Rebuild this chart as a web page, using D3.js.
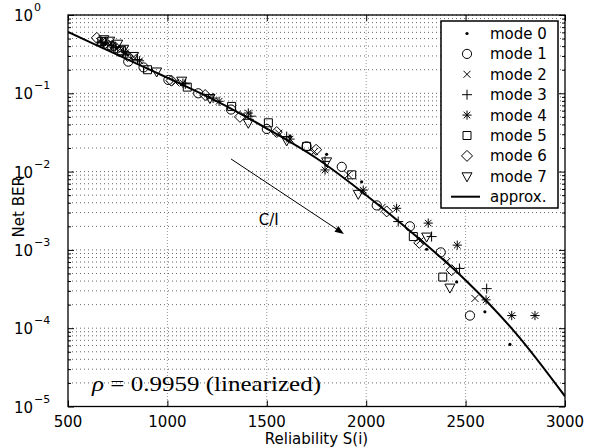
<!DOCTYPE html>
<html><head><meta charset="utf-8">
<script src="https://cdn.jsdelivr.net/npm/d3@7"></script>
<style>body{margin:0;background:#fff} text{fill:#000}</style>
</head><body><svg id="c" width="600" height="448"></svg>
<script>
// ---------------- data ----------------
const modeNames = ["mode 0","mode 1","mode 2","mode 3","mode 4","mode 5","mode 6","mode 7"];
const mode0 = [[690,0.43],[745,0.38],[800,0.31],[1617,0.0285],[1801,0.0166],[1977,0.0074],[2304,0.00102],[2455,0.00039],[2597,0.000162],[2723,0.000062]];
const mode1 = [[700,0.41],[760,0.34],[803,0.254],[880,0.214],[1005,0.148],[1155,0.10],[1320,0.062],[1500,0.035],[1700,0.021],[1877,0.0115],[2053,0.0037],[2220,0.0020],[2375,0.00093],[2522,0.000145]];
const mode2 = [[660,0.46],[710,0.42],[770,0.36],[830,0.29],[1040,0.138],[1215,0.089],[1400,0.050],[1560,0.031],[1740,0.018],[1910,0.0091],[2080,0.0035],[2270,0.0013],[2405,0.00071],[2547,0.00024]];
const mode3 = [[665,0.45],[720,0.41],[780,0.34],[850,0.27],[1090,0.132],[1230,0.087],[1420,0.051],[1600,0.028],[1793,0.0135],[2161,0.0023],[2329,0.00148],[2469,0.00058],[2606,0.00032]];
const mode4 = [[675,0.44],[730,0.39],[790,0.33],[860,0.26],[1078,0.135],[1260,0.079],[1407,0.056],[1617,0.026],[1793,0.0105],[1985,0.0058],[2153,0.0034],[2312,0.0022],[2458,0.00115],[2603,0.00023],[2732,0.000145],[2849,0.000145]];
const mode5 = [[670,0.46],[720,0.40],[770,0.35],[900,0.20],[1100,0.12],[1323,0.068],[1508,0.042],[1700,0.021],[1927,0.0091],[2237,0.00148],[2385,0.00045]];
const mode6 = [[645,0.51],[690,0.44],[740,0.38],[800,0.30],[1020,0.145],[1190,0.095],[1365,0.050],[1550,0.032],[1748,0.019],[2103,0.0031],[2267,0.00123],[2430,0.00055]];
const mode7 = [[680,0.49],[710,0.47],[750,0.43],[780,0.37],[830,0.30],[946,0.19],[1072,0.145],[1214,0.087],[1407,0.042],[1600,0.025],[1801,0.0135],[1960,0.0052],[2304,0.00148],[2421,0.00033]];
const modeData = [mode0,mode1,mode2,mode3,mode4,mode5,mode6,mode7];
const approxS   = [500,750,1000,1250,1500,1750,2000,2250,2500,2750,3000];
const approxBER = [0.607,0.309,0.158,0.079,0.0355,0.0148,0.0050,0.00151,0.00041,0.000088,0.0000135];
const approxName = "approx.";
const xTicks = [500,1000,1500,2000,2500,3000];
const yExponents = [0,-1,-2,-3,-4,-5];
const xLabel = "Reliability S(i)";
const yLabel = "Net BER";
const rhoSymbol = "\u03C1", rhoRest = " = 0.9959 (linearized)";
const arrowLabel = "C/I";
const arrowFrom = [1320, 0.0145], arrowTo = [1888, 0.0016], arrowLabelAt = [1510, 0.0021];

// ---------------- layout ----------------
const SANS = "'DejaVu Sans',sans-serif", SERIF = "'Liberation Serif','DejaVu Serif',serif";
const svg = d3.select("#c");
const L = 68, R = 565, T = 15, B = 406.5;
const x = d3.scaleLinear().domain([500,3000]).range([L,R]);
const y = d3.scaleLog().domain([1e-5,1]).range([B,T]);

svg.append("rect").attr("width",600).attr("height",448).attr("fill","#fff");
svg.append("defs").append("clipPath").attr("id","clip").append("rect")
  .attr("x",L).attr("y",T).attr("width",R-L).attr("height",B-T);

// grid
const allY = y.ticks();
const g = svg.append("g");
g.selectAll("line.hy").data(allY).join("line")
  .attr("x1",L).attr("x2",R).attr("y1",d=>y(d)).attr("y2",d=>y(d))
  .attr("stroke","#666").attr("stroke-width",1).attr("stroke-dasharray","1,3");
g.selectAll("line.vx").data(xTicks.slice(1,-1)).join("line")
  .attr("x1",d=>x(d)).attr("x2",d=>x(d)).attr("y1",T).attr("y2",B)
  .attr("stroke","#999").attr("stroke-width",1).attr("stroke-dasharray","1,2");

// axes ticks (inward)
const majorY = allY.filter(d => Math.abs(Math.log10(d) - Math.round(Math.log10(d))) < 1e-9);
const minorY = allY.filter(d => !majorY.includes(d));
function styleAxis(sel){ sel.select(".domain").remove(); sel.selectAll("line").attr("stroke","#000"); sel.selectAll("text").remove(); }
svg.append("g").attr("transform",`translate(${L},0)`).call(d3.axisLeft(y).tickValues(majorY).tickSizeInner(-6).tickSizeOuter(0)).call(styleAxis);
svg.append("g").attr("transform",`translate(${L},0)`).call(d3.axisLeft(y).tickValues(minorY).tickSizeInner(-3).tickSizeOuter(0)).call(styleAxis);
svg.append("g").attr("transform",`translate(${R},0)`).call(d3.axisRight(y).tickValues(majorY).tickSizeInner(-6).tickSizeOuter(0)).call(styleAxis);
svg.append("g").attr("transform",`translate(${R},0)`).call(d3.axisRight(y).tickValues(minorY).tickSizeInner(-3).tickSizeOuter(0)).call(styleAxis);
svg.append("g").attr("transform",`translate(0,${B})`).call(d3.axisBottom(x).tickValues(xTicks).tickSizeInner(-6).tickSizeOuter(0)).call(styleAxis);
svg.append("g").attr("transform",`translate(0,${T})`).call(d3.axisTop(x).tickValues(xTicks).tickSizeInner(-6).tickSizeOuter(0)).call(styleAxis);

// tick labels
svg.selectAll("text.xt").data(xTicks).join("text")
  .attr("x",d=>x(d)).attr("y",B+20).attr("text-anchor","middle").style("font-family",SANS).attr("font-size",15).text(d=>d);
const yl = svg.selectAll("g.yt").data(yExponents).join("g")
  .attr("transform",e=>`translate(0,${y(Math.pow(10,e))})`);
yl.append("text").attr("x",33).attr("y",6).attr("text-anchor","end").style("font-family",SANS).attr("font-size",15).text("10");
yl.append("text").attr("x",34).attr("y",-4).attr("text-anchor","start").style("font-family",SANS).attr("font-size",11)
  .text(e=> e===0 ? "0" : "\u2212"+Math.abs(e));

// axis titles
svg.append("text").attr("x",(L+R)/2).attr("y",444).attr("text-anchor","middle").style("font-family",SANS).attr("font-size",15).text(xLabel);
svg.append("text").attr("transform",`translate(24,${(T+B)/2-4}) rotate(-90)`).attr("text-anchor","middle").style("font-family",SANS).attr("font-size",15).text(yLabel);

// markers
function markerPath(k){
  switch(k){
    case 2: { const r=3.5; return `M${-r},${-r}L${r},${r}M${-r},${r}L${r},${-r}`; }
    case 3: { const r=5; return `M${-r},0L${r},0M0,${-r}L0,${r}`; }
    case 4: { const r=4.6, q=3.3; return `M${-r},0L${r},0M0,${-r}L0,${r}M${-q},${-q}L${q},${q}M${-q},${q}L${q},${-q}`; }
    case 5: { const r=4; return `M${-r},${-r}H${r}V${r}H${-r}Z`; }
    case 6: { const r=5.5; return `M0,${-r}L${r},0L0,${r}L${-r},0Z`; }
    case 7: { return `M-5,-3.5L5,-3.5L0,5.5Z`; }
  }
  return "";
}
function drawMarker(sel,k){
  if(k===0){ sel.append("circle").attr("r",1.6).attr("fill","#000"); }
  else if(k===1){ sel.append("circle").attr("r",4.6).attr("fill","none").attr("stroke","#000").attr("stroke-width",1); }
  else { sel.append("path").attr("d",markerPath(k)).attr("fill","none").attr("stroke","#000").attr("stroke-width",1); }
}
const plot = svg.append("g").attr("clip-path","url(#clip)");
modeData.forEach((pts,k)=>{
  plot.append("g").selectAll("g").data(pts).join("g")
    .attr("transform",d=>`translate(${x(d[0])},${y(d[1])})`)
    .each(function(){ drawMarker(d3.select(this),k); });
});

// approx curve
const approx = approxS.map((s,i)=>[s,approxBER[i]]);
plot.append("path").datum(approx)
  .attr("d", d3.line().x(d=>x(d[0])).y(d=>y(d[1])).curve(d3.curveCatmullRom))
  .attr("fill","none").attr("stroke","#000").attr("stroke-width",2);

// arrow annotation
const ax1=x(arrowFrom[0]), ay1=y(arrowFrom[1]), ax2=x(arrowTo[0]), ay2=y(arrowTo[1]);
const ang = Math.atan2(ay2-ay1, ax2-ax1);
svg.append("line").attr("x1",ax1).attr("y1",ay1).attr("x2",ax2-6*Math.cos(ang)).attr("y2",ay2-6*Math.sin(ang))
  .attr("stroke","#000").attr("stroke-width",1);
svg.append("path").attr("transform",`translate(${ax2},${ay2}) rotate(${ang*180/Math.PI})`)
  .attr("d","M0,0L-9,-3.5L-9,3.5Z").attr("fill","#000");
svg.append("text").attr("x",x(arrowLabelAt[0])).attr("y",y(arrowLabelAt[1])).attr("text-anchor","middle")
  .style("font-family",SANS).attr("font-size",15).text(arrowLabel);

// rho text
const rt = svg.append("text").attr("x",92).attr("y",391).style("font-family",SERIF).attr("font-size",21)
  .attr("textLength",229).attr("lengthAdjust","spacingAndGlyphs");
rt.append("tspan").style("font-style","italic").text(rhoSymbol);
rt.append("tspan").text(rhoRest);

// frame
svg.append("rect").attr("x",L).attr("y",T).attr("width",R-L).attr("height",B-T)
  .attr("fill","none").attr("stroke","#000").attr("stroke-width",1.3);

// legend
const lg = svg.append("g");
lg.append("rect").attr("x",441).attr("y",21).attr("width",117).attr("height",187)
  .attr("fill","#fff").attr("stroke","#000").attr("stroke-width",1.5);
const rowY = i => 33.5 + i*20.4;
modeNames.forEach((nm,k)=>{
  const r = lg.append("g").attr("transform",`translate(467,${rowY(k)})`);
  drawMarker(r,k);
  lg.append("text").attr("x",490).attr("y",rowY(k)+5.5).style("font-family",SANS).attr("font-size",15).text(nm);
});
lg.append("line").attr("x1",451).attr("x2",480).attr("y1",rowY(8)).attr("y2",rowY(8)).attr("stroke","#000").attr("stroke-width",2);
lg.append("text").attr("x",490).attr("y",rowY(8)+5.5).style("font-family",SANS).attr("font-size",15).text(approxName);
</script></body></html>
